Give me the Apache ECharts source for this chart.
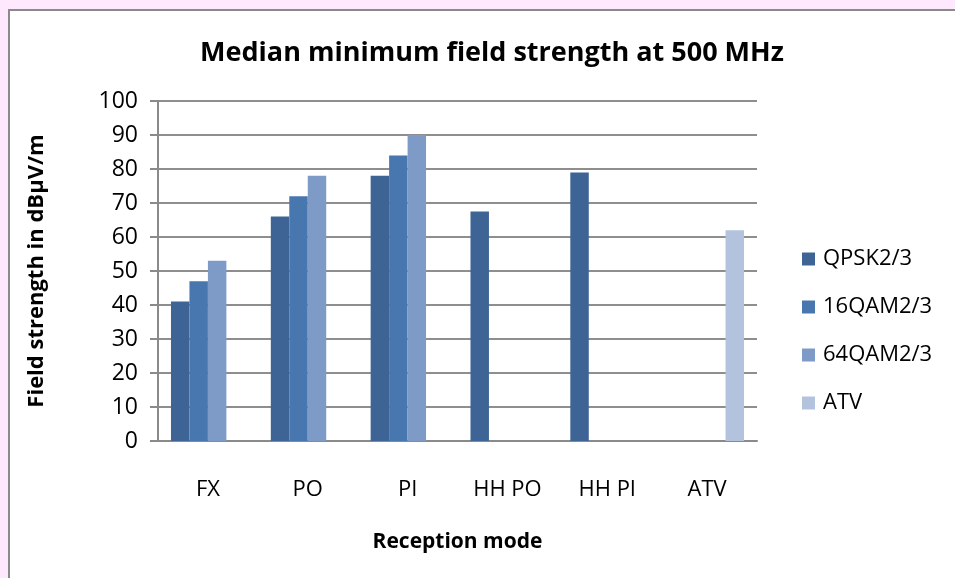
<!DOCTYPE html>
<html>
<head>
<meta charset="utf-8">
<script src="https://cdn.jsdelivr.net/npm/echarts@6/dist/echarts.min.js"></script>
<style>
html,body{margin:0;padding:0;background:#fde8fd;}
#c{width:955px;height:578px;}
</style>
</head>
<body>
<div id="c"></div>
<script>
const categories = ['FX', 'PO', 'PI', 'HH PO', 'HH PI', 'ATV'];
const seriesNames = ['QPSK2/3', '16QAM2/3', '64QAM2/3', 'ATV'];
const qpsk = [41, 66, 78, 67.5, 79, null];
const qam16 = [47, 72, 84, null, null, null];
const qam64 = [53, 78, 90, null, null, null];
const atv = [null, null, null, null, null, 62];
const yTicks = [0, 10, 20, 30, 40, 50, 60, 70, 80, 90, 100];

const colors = ['#3d6495', '#4877b0', '#7e9bc8', '#b3c3de'];
const font = 'Open Sans';
const chart = echarts.init(document.getElementById('c'), null, {renderer: 'canvas'});
const values = [qpsk, qam16, qam64, atv];
chart.setOption({
  backgroundColor: '#fde8fd',
  animation: false,
  graphic: [{
    type: 'rect', z: -10, silent: true,
    shape: {x: 9, y: 10, width: 1000, height: 620},
    style: {fill: '#ffffff', stroke: '#8a8a8a', lineWidth: 2}
  }],
  title: {
    text: 'Median minimum field strength at 500 MHz',
    left: 487, top: 35, textAlign: 'center',
    textStyle: {fontFamily: font, fontSize: 27, fontWeight: 'bold', color: '#000'}
  },
  legend: {
    orient: 'vertical', left: 797, top: 243,
    itemWidth: 13, itemHeight: 13, itemGap: 26,
    icon: 'rect',
    data: seriesNames,
    textStyle: {fontFamily: font, fontSize: 22, color: '#000', padding: [0, 0, 0, 3]}
  },
  grid: {left: 158, right: 198, top: 101, bottom: 137, containLabel: false},
  xAxis: {
    type: 'category', data: categories,
    name: 'Reception mode', nameLocation: 'middle', nameGap: 91,
    nameTextStyle: {fontFamily: font, fontSize: 21, fontWeight: 'bold', color: '#000'},
    axisLine: {lineStyle: {color: '#8a8a8a', width: 2}},
    axisTick: {show: false},
    axisLabel: {fontFamily: font, fontSize: 22, color: '#000', margin: 38}
  },
  yAxis: {
    type: 'value', min: yTicks[0], max: yTicks[yTicks.length - 1], interval: 10,
    name: 'Field strength in dBµV/m', nameLocation: 'middle', nameGap: 110, nameRotate: 90,
    nameTextStyle: {fontFamily: font, fontSize: 22, fontWeight: 'bold', color: '#000'},
    axisLine: {show: true, lineStyle: {color: '#8a8a8a', width: 2}},
    axisTick: {show: true, length: 8, lineStyle: {color: '#8a8a8a', width: 2}},
    axisLabel: {fontFamily: font, fontSize: 23, color: '#000', margin: 20},
    splitLine: {show: true, lineStyle: {color: '#8e8e8e', width: 2}}
  },
  series: seriesNames.map((n, i) => ({
    name: n, type: 'bar', data: values[i],
    barGap: '0%', barCategoryGap: '26%',
    itemStyle: {color: colors[i]}
  }))
});
</script>
</body>
</html>
